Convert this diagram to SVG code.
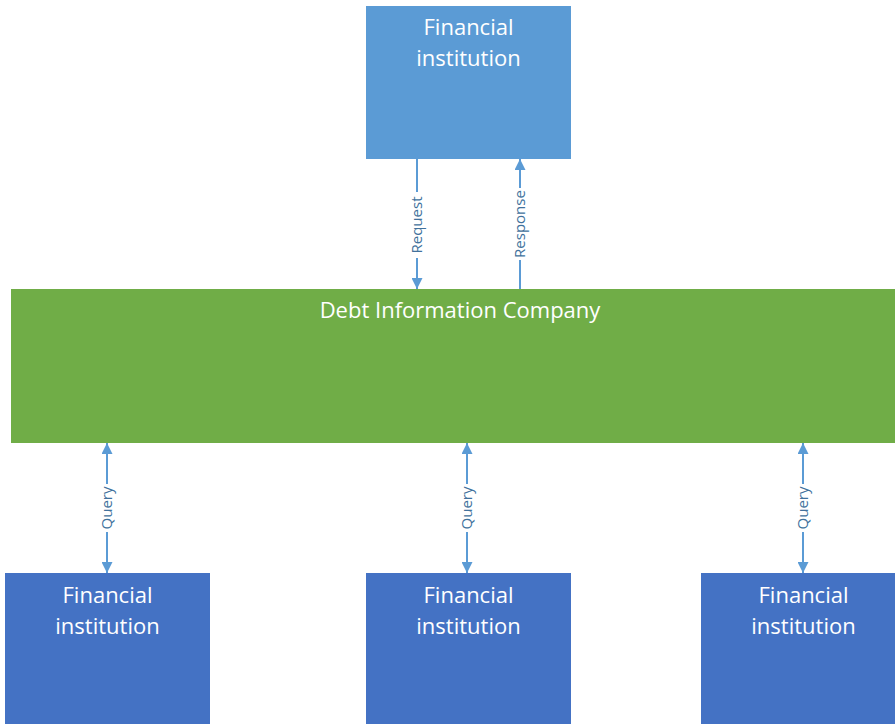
<svg xmlns="http://www.w3.org/2000/svg" width="895" height="724" viewBox="0 0 895 724">
<defs>
<marker id="ah" viewBox="0 0 10 10" refX="10" refY="5" markerWidth="11" markerHeight="11" markerUnits="userSpaceOnUse" orient="auto-start-reverse">
<path d="M0,0 L10,5 L0,10 z" fill="#5B9BD5"/>
</marker>
<style>
.t{font-family:"Open Sans","Liberation Sans",sans-serif;font-size:22px;fill:#fff;text-anchor:middle}
.c{stroke:#5B9BD5;stroke-width:2;fill:none}
.l{font-family:"Open Sans","Liberation Sans",sans-serif;font-size:15px;fill:#41719C;text-anchor:middle}
</style>
</defs>
<rect width="895" height="724" fill="#fff"/>
<g id="connectors">
<line class="c" x1="417" y1="159" x2="417" y2="289" marker-end="url(#ah)"/>
<line class="c" x1="520" y1="289" x2="520" y2="159" marker-end="url(#ah)"/>
<line class="c" x1="107" y1="443" x2="107" y2="573" marker-start="url(#ah)" marker-end="url(#ah)"/>
<line class="c" x1="467" y1="443" x2="467" y2="573" marker-start="url(#ah)" marker-end="url(#ah)"/>
<line class="c" x1="803" y1="443" x2="803" y2="573" marker-start="url(#ah)" marker-end="url(#ah)"/>
<g transform="translate(417,225) rotate(-90)"><rect x="-33" y="-9" width="66" height="18" fill="#fff"/><text class="l" y="5">Request</text></g>
<g transform="translate(520,224) rotate(-90)"><rect x="-36" y="-9" width="72" height="18" fill="#fff"/><text class="l" y="5">Response</text></g>
<g transform="translate(107,508) rotate(-90)"><rect x="-24" y="-9" width="48" height="18" fill="#fff"/><text class="l" y="5">Query</text></g>
<g transform="translate(467,508) rotate(-90)"><rect x="-24" y="-9" width="48" height="18" fill="#fff"/><text class="l" y="5">Query</text></g>
<g transform="translate(803,508) rotate(-90)"><rect x="-24" y="-9" width="48" height="18" fill="#fff"/><text class="l" y="5">Query</text></g>
</g>
<g id="fi-top">
<rect x="366" y="6" width="205" height="153" fill="#5B9BD5"/>
<text class="t" x="468.500" y="35">Financial</text>
<text class="t" x="468.500" y="66">institution</text>
</g>
<g id="dic">
<rect x="11" y="289" width="884" height="154" fill="#70AD47"/>
<text class="t" x="460" y="318">Debt Information Company</text>
</g>
<g id="fi-1">
<rect x="5" y="573" width="205" height="151" fill="#4472C4"/>
<text class="t" x="107.500" y="603">Financial</text>
<text class="t" x="107.500" y="634">institution</text>
</g>
<g id="fi-2">
<rect x="366" y="573" width="205" height="151" fill="#4472C4"/>
<text class="t" x="468.500" y="603">Financial</text>
<text class="t" x="468.500" y="634">institution</text>
</g>
<g id="fi-3">
<rect x="701" y="573" width="194" height="151" fill="#4472C4"/>
<text class="t" x="803.500" y="603">Financial</text>
<text class="t" x="803.500" y="634">institution</text>
</g>
</svg>
